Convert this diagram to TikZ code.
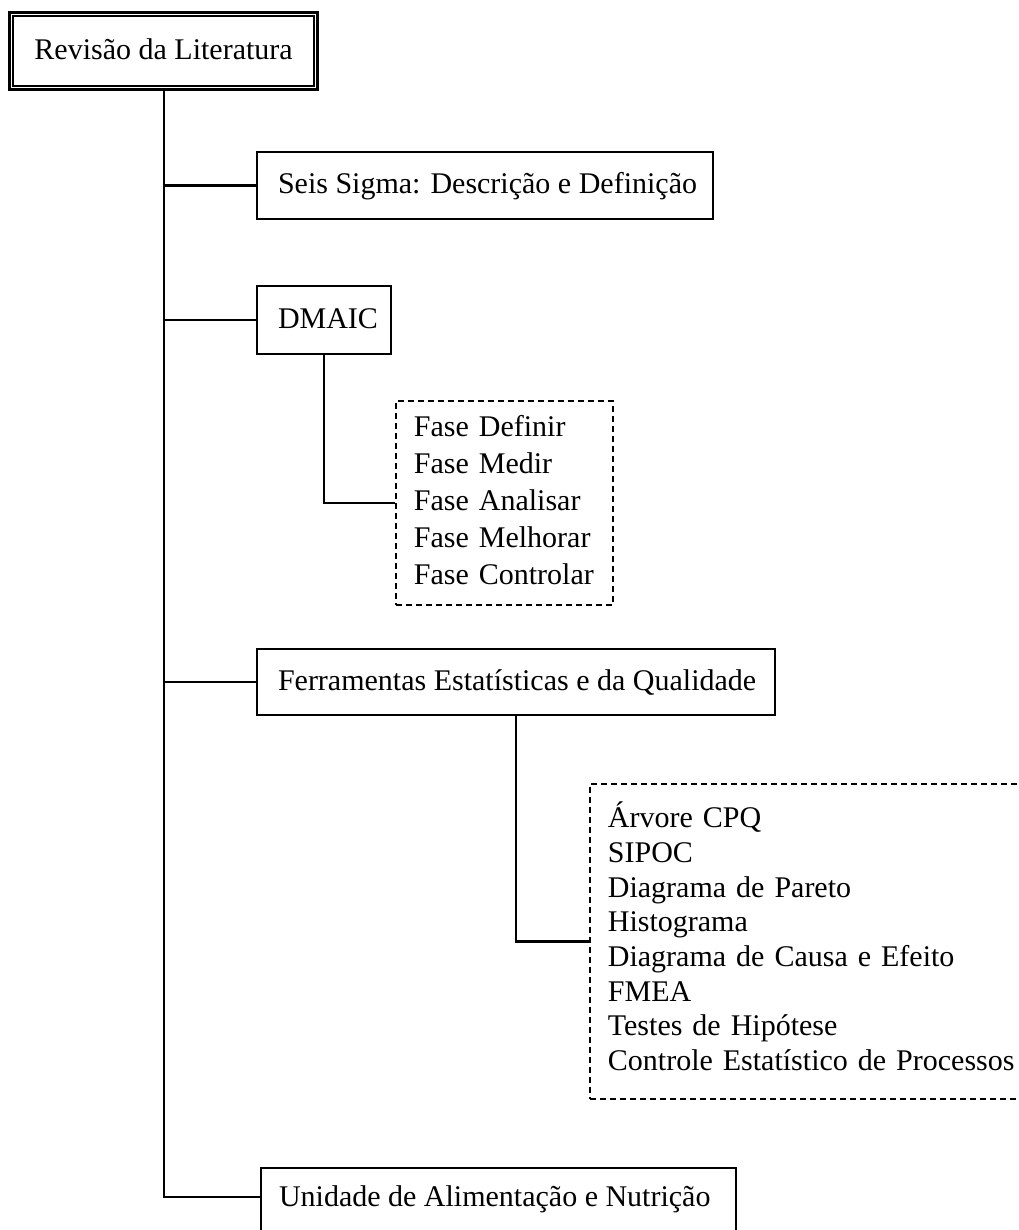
\documentclass[tikz,border=0pt]{standalone}
\usepackage{fontspec}
\setmainfont{Liberation Serif}
% left-aligned single line of fixed width
\newcommand{\leftin}[2]{\makebox[#1][l]{#2}}
\begin{document}
\begin{tikzpicture}[x=1pt,y=-1pt,
  every node/.style={font=\fontsize{30}{36}\selectfont},
  solidbox/.style={draw, line width=2pt, anchor=north west, inner xsep=21pt,
    inner ysep=0pt, text height=22pt, text depth=5pt},
  listbox/.style={draw, dash pattern=on 6pt off 4pt, line width=1.8pt,
    anchor=north west, inner xsep=18pt, inner ysep=0pt, align=left},
  link/.style={line width=2.2pt},
]
\clip (0,0) rectangle (1018,1230);

% root box with a double frame
\node[draw, line width=3.2pt, anchor=north west, minimum width=308pt,
  minimum height=77pt, inner sep=0pt, text height=22pt, text depth=5pt]
  (root) at (8,11) {Revisão da Literatura};
\draw[line width=1.8pt] ([shift={(5pt,-5pt)}]root.north west)
  rectangle ([shift={(-5pt,5pt)}]root.south east);

% first-level topics
\node[solidbox, minimum height=67pt] (seis) at (256,151)
  {\leftin{414pt}{Seis Sigma: Descrição e Definição}};
\node[solidbox, minimum height=68pt] (dmaic) at (256,285)
  {\leftin{92pt}{DMAIC}};
\node[solidbox, minimum height=66pt] (ferr) at (256,648)
  {\leftin{476pt}{Ferramentas Estatísticas e da Qualidade}};
\node[solidbox, inner xsep=18pt, text height=38pt, text depth=35pt] (uan) at (260,1167)
  {\leftin{439pt}{Unidade de Alimentação e Nutrição}};

% detail lists
\node[listbox, minimum height=204pt, text width=181pt,
  font=\fontsize{30}{37}\selectfont] (fases) at (395,400)
  {\strut Fase Definir\\ \strut Fase Medir\\ \strut Fase Analisar\\
   \strut Fase Melhorar\\ \strut Fase Controlar};
\node[listbox, minimum height=315pt, text width=415pt,
  font=\fontsize{30}{34.7}\selectfont] (tools) at (589,783)
  {\strut Árvore CPQ\\ \strut SIPOC\\ \strut Diagrama de Pareto\\
   \strut Histograma\\ \strut Diagrama de Causa e Efeito\\ \strut FMEA\\
   \strut Testes de Hipótese\\ \strut Controle Estatístico de Processos};

% trunk and branches
\draw[link] (root.south) |- ([yshift=-30pt]uan.north west);
\draw[link] (root.south |- seis.west) -- (seis.west);
\draw[link] (root.south |- dmaic.west) -- (dmaic.west);
\draw[link] (root.south |- ferr.west) -- (ferr.west);

% links to the detail lists
\draw[link] (dmaic.south) |- (fases.west);
\draw[link] (ferr.south) |- (tools.west);
\end{tikzpicture}
\end{document}
